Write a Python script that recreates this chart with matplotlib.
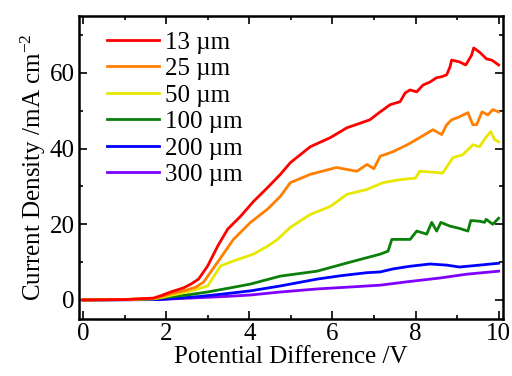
import matplotlib
matplotlib.use("Agg")
import matplotlib.pyplot as plt
from matplotlib.ticker import MultipleLocator

plt.rcParams['font.family'] = ['Liberation Serif', 'DejaVu Serif']
plt.rcParams['mathtext.fontset'] = 'custom'
plt.rcParams['mathtext.rm'] = 'Liberation Serif'
plt.rcParams['mathtext.default'] = 'rm'

labels = ['13 µm', '25 µm', '50 µm', '100 µm', '200 µm', '300 µm']
colors = ['#ff0000', '#ff7f00', '#e8e800', '#0a800a', '#0000ff', '#7f00ff']

# values
x_13 = [0, 1.0, 1.39, 1.7, 1.87, 2.11, 2.42, 2.6, 2.78, 3.0, 3.24, 3.48, 3.79, 4.1, 4.44, 4.75,
        4.99, 5.47, 5.95, 6.35, 6.9, 7.15, 7.39, 7.63, 7.75, 7.87, 8.03, 8.18, 8.35, 8.5, 8.63,
        8.75, 8.83, 8.87, 9.06, 9.21, 9.35, 9.4, 9.54, 9.71, 9.83, 9.9, 10.0]
y_13 = [0, 0.1, 0.3, 0.5, 1.1, 2.1, 3.2, 4.2, 5.5, 9.0, 14.2, 18.7, 22.1, 26.0, 29.7, 33.2,
        36.3, 40.5, 42.9, 45.5, 47.6, 49.7, 51.6, 52.4, 54.7, 55.5, 55.0, 56.8, 57.6, 58.7, 59.0,
        59.5, 61.6, 63.4, 62.9, 62.1, 64.7, 66.6, 65.5, 63.7, 63.4, 62.9, 62.1]

x_25 = [0, 1.0, 1.7, 1.87, 2.11, 2.42, 2.7, 2.9, 3.24, 3.62, 4.03, 4.44, 4.75, 4.99, 5.47,
        6.1, 6.59, 6.83, 7.0, 7.15, 7.39, 7.46, 7.8, 8.1, 8.42, 8.63, 8.75, 8.87, 9.06, 9.26,
        9.38, 9.47, 9.6, 9.74, 9.86, 10.0]
y_25 = [0, 0.1, 0.4, 0.8, 1.6, 2.4, 3.3, 4.7, 10.0, 16.0, 20.5, 24.0, 27.4, 31.0, 33.2,
        35.0, 34.0, 35.8, 34.7, 38.0, 38.9, 39.2, 41.0, 42.9, 45.0, 43.7, 46.3, 47.6, 48.4, 49.5,
        46.3, 46.3, 49.7, 48.9, 50.3, 49.7]

x_50 = [0, 1.0, 1.7, 1.87, 2.11, 2.42, 2.7, 3.0, 3.31, 3.62, 4.1, 4.44, 4.68, 4.99, 5.47,
        5.95, 6.35, 6.83, 7.22, 7.63, 8.0, 8.1, 8.5, 8.65, 8.9, 9.14, 9.38, 9.54, 9.71, 9.81,
        9.9, 10.0]
y_50 = [0, 0.1, 0.3, 0.6, 1.2, 1.9, 2.7, 3.7, 9.0, 10.3, 12.1, 14.2, 16.0, 19.2, 22.6,
        24.7, 27.9, 29.2, 31.0, 31.8, 32.2, 34.0, 33.7, 33.5, 37.6, 38.4, 41.0, 40.5, 43.2, 44.5,
        42.4, 41.8]

x_100 = [0, 1.0, 1.7, 1.87, 2.5, 3.0, 3.5, 4.03, 4.75, 5.63, 6.43, 7.15, 7.34, 7.43, 7.87,
         8.03, 8.27, 8.39, 8.51, 8.61, 8.83, 9.06, 9.26, 9.33, 9.54, 9.66, 9.7, 9.86, 10.0]
y_100 = [0, 0.1, 0.3, 0.5, 1.3, 2.1, 3.1, 4.2, 6.3, 7.6, 10.0, 12.1, 12.9, 16.0, 16.0,
         18.2, 17.4, 20.5, 18.2, 20.5, 19.5, 18.9, 18.2, 21.0, 20.8, 20.5, 21.3, 20.0, 21.6]

x_200 = [0, 1.0, 1.8, 2.2, 2.8, 3.4, 4.03, 4.75, 5.63, 6.2, 6.83, 7.15, 7.46, 7.87, 8.35,
         8.75, 9.06, 9.54, 10.0]
y_200 = [0, 0.05, 0.1, 0.4, 0.9, 1.6, 2.4, 3.7, 5.5, 6.4, 7.2, 7.4, 8.2, 8.9, 9.5,
         9.2, 8.7, 9.2, 9.7]

x_300 = [0, 1.0, 1.8, 2.2, 2.8, 3.4, 4.03, 4.75, 5.63, 6.4, 7.15, 7.8, 8.59, 9.23, 10.0]
y_300 = [0, 0.05, 0.1, 0.3, 0.6, 0.9, 1.3, 2.1, 2.9, 3.4, 3.9, 4.8, 5.8, 6.8, 7.6]

series_x = [x_13, x_25, x_50, x_100, x_200, x_300]
series_y = [y_13, y_25, y_50, y_100, y_200, y_300]

fig = plt.figure(figsize=(5.12, 3.76), dpi=100)
ax = fig.add_axes([0.154, 0.152, 0.828, 0.805])

# draw thickest-sample first so thin ones sit on top like the reference
for xs, ys, c, lab in reversed(list(zip(series_x, series_y, colors, labels))):
    ax.plot(xs, ys, color=c, lw=2.0, label=lab)

ax.set_xlim(-0.1, 10.1)
ax.set_ylim(-5, 75)
ax.xaxis.set_major_locator(MultipleLocator(2))
ax.xaxis.set_minor_locator(MultipleLocator(1))
ax.yaxis.set_major_locator(MultipleLocator(20))
ax.yaxis.set_minor_locator(MultipleLocator(10))
ax.tick_params(which='both', direction='in', top=True, right=True, width=1.2, labelsize=18)
ax.tick_params(which='major', length=6, pad=3)
ax.tick_params(which='minor', length=3)
for s in ax.spines.values():
    s.set_linewidth(1.8)

ax.set_xlabel('Potential Difference /V', fontsize=18, labelpad=1)
ax.set_ylabel(r'Current Density /mA cm$^{-2}$', fontsize=18, labelpad=1)

handles, labs = ax.get_legend_handles_labels()
ax.legend(handles[::-1], labs[::-1], loc='upper left', frameon=False, fontsize=18,
          handlelength=2.1, handletextpad=0.25, labelspacing=0.16,
          borderaxespad=0.2, bbox_to_anchor=(0.03, 1.0))

fig.savefig('out.png', dpi=100)
